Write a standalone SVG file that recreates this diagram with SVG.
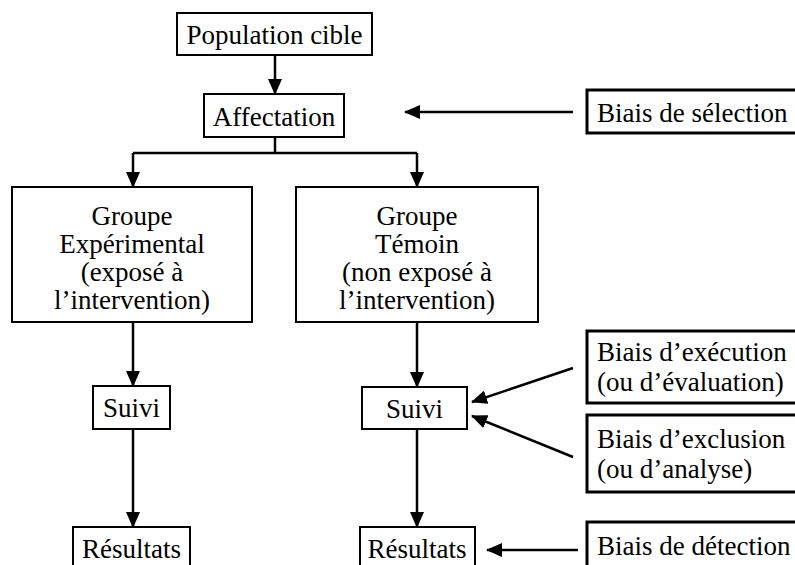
<svg xmlns="http://www.w3.org/2000/svg" width="795" height="565" viewBox="0 0 795 565">
<defs>
<marker id="a2" markerWidth="16" markerHeight="14" refX="15" refY="7" orient="auto" markerUnits="userSpaceOnUse" viewBox="0 0 16 14">
<path d="M0,0 L16,7 L0,14 z" fill="#000"/>
</marker>
</defs>
<g id="connectors" stroke="#000" stroke-width="2.5" fill="none">
<line x1="275" y1="55" x2="275" y2="94" marker-end="url(#a2)"/>
<line x1="275" y1="137" x2="275" y2="153"/>
<line x1="133" y1="153" x2="417" y2="153"/>
<line x1="133" y1="153" x2="133" y2="187" marker-end="url(#a2)"/>
<line x1="417" y1="153" x2="417" y2="187" marker-end="url(#a2)"/>
<line x1="133" y1="322" x2="133" y2="386" marker-end="url(#a2)"/>
<line x1="417" y1="322" x2="417" y2="387" marker-end="url(#a2)"/>
<line x1="133" y1="429" x2="133" y2="527" marker-end="url(#a2)"/>
<line x1="417" y1="429" x2="417" y2="527" marker-end="url(#a2)"/>
<line x1="573" y1="112" x2="405" y2="112" marker-end="url(#a2)"/>
<line x1="573" y1="368" x2="472" y2="402" marker-end="url(#a2)"/>
<line x1="573" y1="457" x2="472" y2="416" marker-end="url(#a2)"/>
<line x1="578" y1="550" x2="487" y2="550" marker-end="url(#a2)"/>
</g>
<g font-family="Times New Roman" font-size="27" text-anchor="middle">
<g id="population">
<rect x="177" y="13" width="195" height="42" fill="#fff" stroke="#000" stroke-width="2"/>
<text x="274.5" y="44">Population cible</text>
</g>
<g id="affectation">
<rect x="204" y="94" width="140" height="43" fill="#fff" stroke="#000" stroke-width="2"/>
<text x="274" y="126">Affectation</text>
</g>
<g id="groupe-exp">
<rect x="12" y="187" width="240" height="135" fill="#fff" stroke="#000" stroke-width="2"/>
<text x="132" y="225">Groupe</text>
<text x="132" y="253">Exp&#233;rimental</text>
<text x="132" y="281">(expos&#233; &#224;</text>
<text x="132" y="309">l&#8217;intervention)</text>
</g>
<g id="groupe-temoin">
<rect x="296" y="187" width="242" height="135" fill="#fff" stroke="#000" stroke-width="2"/>
<text x="417" y="225">Groupe</text>
<text x="417" y="253">T&#233;moin</text>
<text x="417" y="281">(non expos&#233; &#224;</text>
<text x="417" y="309">l&#8217;intervention)</text>
</g>
<g id="suivi-exp">
<rect x="93" y="386" width="77" height="43" fill="#fff" stroke="#000" stroke-width="2"/>
<text x="131.5" y="417">Suivi</text>
</g>
<g id="suivi-temoin">
<rect x="362" y="387" width="105" height="42" fill="#fff" stroke="#000" stroke-width="2"/>
<text x="414.5" y="418">Suivi</text>
</g>
<g id="resultats-exp">
<rect x="73" y="527" width="117" height="45" fill="#fff" stroke="#000" stroke-width="2"/>
<text x="131.5" y="558">R&#233;sultats</text>
</g>
<g id="resultats-temoin">
<rect x="360" y="527" width="115" height="45" fill="#fff" stroke="#000" stroke-width="2"/>
<text x="417" y="558">R&#233;sultats</text>
</g>
<g id="biais-selection">
<rect x="587" y="90" width="215" height="43" fill="#fff" stroke="#000" stroke-width="3"/>
<text text-anchor="start" x="597" y="122">Biais de s&#233;lection</text>
</g>
<g id="biais-execution">
<rect x="587" y="331" width="215" height="72" fill="#fff" stroke="#000" stroke-width="3"/>
<text text-anchor="start" x="597" y="361">Biais d&#8217;ex&#233;cution</text>
<text text-anchor="start" x="597" y="391">(ou d&#8217;&#233;valuation)</text>
</g>
<g id="biais-exclusion">
<rect x="587" y="415" width="215" height="77" fill="#fff" stroke="#000" stroke-width="3"/>
<text text-anchor="start" x="597" y="448">Biais d&#8217;exclusion</text>
<text text-anchor="start" x="597" y="478">(ou d&#8217;analyse)</text>
</g>
<g id="biais-detection">
<rect x="587" y="522" width="215" height="50" fill="#fff" stroke="#000" stroke-width="3"/>
<text text-anchor="start" x="597" y="555">Biais de d&#233;tection</text>
</g>
</g>
</svg>
